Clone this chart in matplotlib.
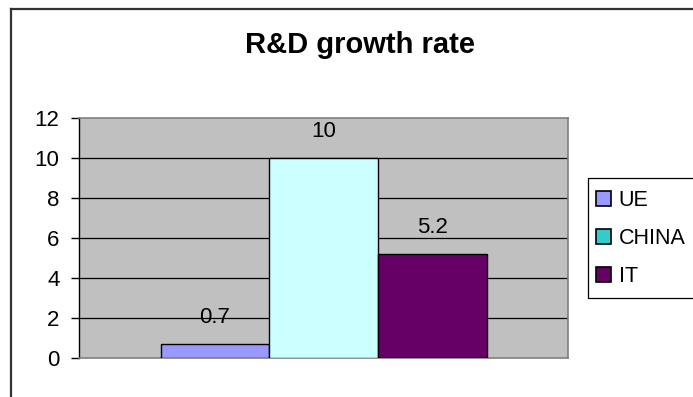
import matplotlib
matplotlib.use("Agg")
import matplotlib.pyplot as plt
from matplotlib.patches import Patch, Rectangle

plt.rcParams['font.family'] = ['Liberation Sans', 'DejaVu Sans']

series = ["UE", "CHINA", "IT"]
values = [0.7, 10, 5.2]
value_labels = ["0.7", "10", "5.2"]
bar_colors = ["#9999FF", "#CCFFFF", "#660066"]
key_colors = ["#9999FF", "#33CCCC", "#660066"]
yticks = [0, 2, 4, 6, 8, 10, 12]

W, H = 693, 397
fig = plt.figure(figsize=(W / 100, H / 100), dpi=100)

# chart area frame (only top and left edges fall inside the canvas)
fig.add_artist(plt.Line2D([11 / W, 11 / W], [0, 1 - 9 / H], color="#333333", lw=1.6))
fig.add_artist(plt.Line2D([11 / W, 1], [1 - 9 / H, 1 - 9 / H], color="#333333", lw=1.6))

ax = fig.add_axes([79 / W, 1 - 358 / H, (568 - 79) / W, (358 - 118) / H])
ax.set_facecolor("#C0C0C0")

xs = [i - 1 for i in range(len(series))]
bars = ax.bar(xs, values, width=1.0, color=bar_colors, edgecolor="black", linewidth=1.0, zorder=3)
for b, lab in zip(bars, value_labels):
    ax.annotate(lab, (b.get_x() + b.get_width() / 2, b.get_height()),
                xytext=(0, 15), textcoords="offset points",
                ha="center", va="baseline", fontsize=16, zorder=4)

ax.set_xlim(-2.25, 2.25)
ax.set_ylim(0, 12)
ax.set_yticks(yticks)
ax.set_xticks([])
for y in yticks[1:-1]:
    ax.axhline(y, color="black", lw=0.9, zorder=1)

for side in ["top", "right", "bottom"]:
    ax.spines[side].set_color("#808080")
    ax.spines[side].set_linewidth(1.2)
ax.spines["left"].set_color("black")
ax.spines["left"].set_linewidth(1.0)
ax.tick_params(axis="y", length=6, width=1.0, labelsize=16, pad=8)

fig.text(360 / W, 1 - 53 / H, "R&D growth rate", ha="center", va="baseline",
         fontsize=21, fontweight="bold")

# legend box runs off the right edge
fig.add_artist(Rectangle((588 / W, 1 - 298 / H), 120 / W, 120 / H, transform=fig.transFigure,
                         facecolor="white", edgecolor="black", linewidth=0.9, clip_on=False))
handles = [Patch(facecolor=c, edgecolor="black", linewidth=1.2) for c in key_colors]
leg = fig.legend(handles, series, loc="upper left", bbox_to_anchor=(596 / W, 1 - 190 / H),
                 fontsize=15.5, frameon=False, borderpad=0,
                 handlelength=0.7, handleheight=0.7, handletextpad=0.35, labelspacing=0.8,
                 borderaxespad=0)

fig.savefig("out.png", dpi=100)
